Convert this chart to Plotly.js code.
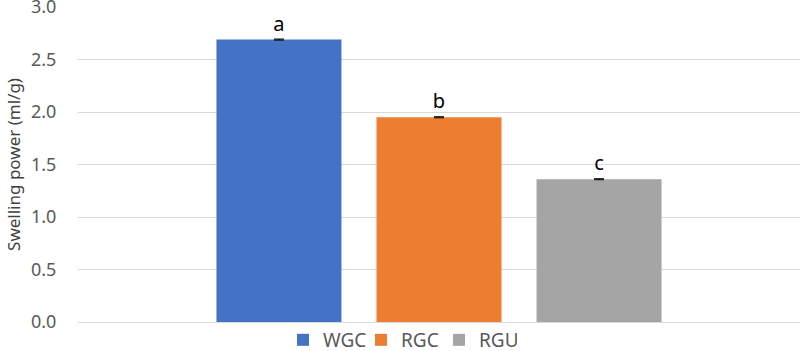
<!DOCTYPE html>
<html>
<head>
<meta charset="utf-8">
<script src="https://cdn.plot.ly/plotly-3.0.1.min.js"></script>
<style>html,body{margin:0;padding:0;background:#fff;}#chart{width:800px;height:351px;}</style>
</head>
<body>
<div id="chart"></div>
<script>
const seriesNames = ["WGC", "RGC", "RGU"];
const seriesValues = [2.69, 1.95, 1.36];
const seriesErrors = [0.005, 0.005, 0.005];
const seriesLetters = ["a", "b", "c"];
const seriesColors = ["#4472C4", "#ED7D31", "#A5A5A5"];
const category = ["Sample"];
const yTicks = [0, 0.5, 1.0, 1.5, 2.0, 2.5, 3.0];
const yTickLabels = ["0.0", "0.5", "1.0", "1.5", "2.0", "2.5", "3.0"];

const FONT = "Noto Sans, Liberation Sans, sans-serif";
const traces = seriesNames.map((name, i) => ({
  type: "bar",
  name: name,
  x: category,
  y: [seriesValues[i]],
  text: [seriesLetters[i]],
  textposition: "outside",
  textfont: {family: FONT, size: 20, color: "#000000"},
  cliponaxis: false,
  marker: {color: seriesColors[i]},
  error_y: {type: "data", array: [seriesErrors[i]], visible: true, color: "#000000", thickness: 1, width: 5},
  hoverinfo: "skip"
}));

const layout = {
  width: 800, height: 351,
  margin: {l: 78, r: 0, t: 7, b: 29, autoexpand: false},
  paper_bgcolor: "#ffffff",
  plot_bgcolor: "#ffffff",
  barmode: "group",
  bargap: 0.335,
  bargroupgap: 0.219,
  showlegend: true,
  legend: {orientation: "h", xref: "container", x: 0.5, xanchor: "center", y: -0.057, yanchor: "middle",
           bgcolor: "rgba(0,0,0,0)",
           font: {family: FONT, size: 19, color: "#595959"}, itemwidth: 30,
           entrywidth: 33, entrywidthmode: "pixels", tracegroupgap: 0},
  xaxis: {type: "category", showticklabels: false, showgrid: false, zeroline: false, showline: false, ticks: ""},
  yaxis: {
    range: [0, 3.0], tickvals: yTicks, ticktext: yTickLabels, ticklabeloverflow: "allow",
    showgrid: true, gridcolor: "#D9D9D9", gridwidth: 1,
    zeroline: true, zerolinecolor: "#D9D9D9", zerolinewidth: 1,
    showline: false, ticks: "outside", ticklen: 17, tickcolor: "rgba(0,0,0,0)",
    tickfont: {family: FONT, size: 18, color: "#595959"},
    title: {text: "Swelling power (ml/g)", font: {family: FONT, size: 17, color: "#404040"}, standoff: 6}
  }
};

Plotly.newPlot("chart", traces, layout, {displayModeBar: false, staticPlot: true});
</script>
</body>
</html>
